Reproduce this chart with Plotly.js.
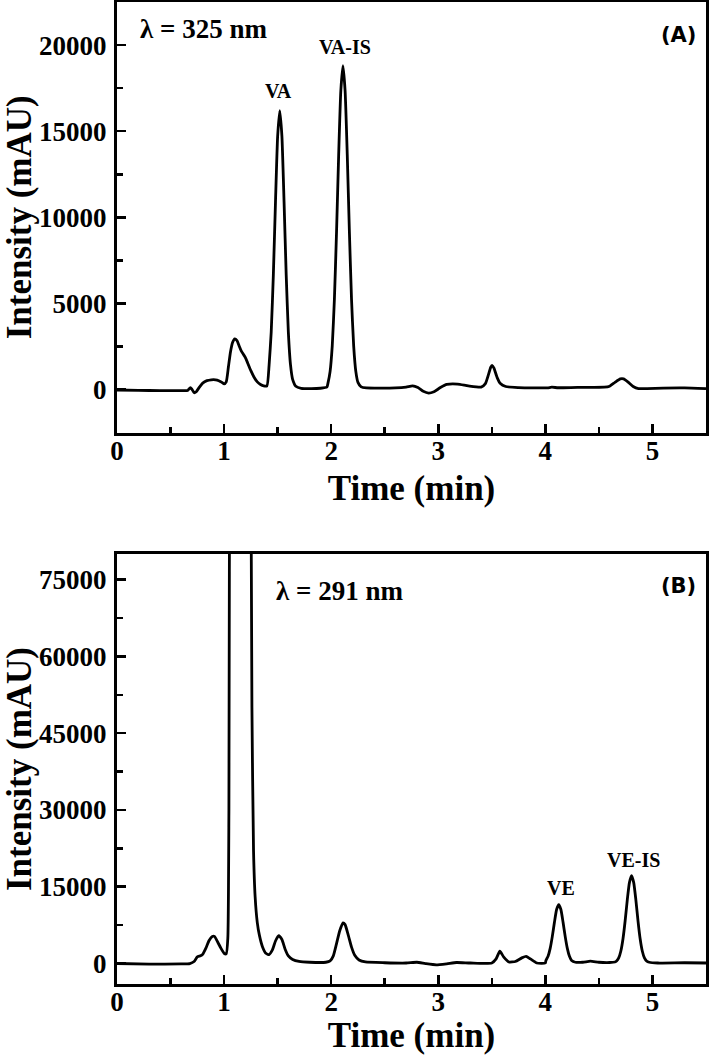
<!DOCTYPE html>
<html>
<head>
<meta charset="utf-8">
<script src="https://cdn.plot.ly/plotly-3.0.1.min.js"></script>
<style>
  html, body { margin: 0; padding: 0; background: #fff; }
  #chart { width: 709px; height: 1055px; }
</style>
</head>
<body>
<div id="chart"></div>
<script>
// Chromatogram (A), lambda = 325 nm
let timeA = [0.00, 0.20, 0.40, 0.60, 0.66, 0.685, 0.70, 0.72, 0.74, 0.77, 0.80, 0.84, 0.88, 0.92, 0.95, 0.98,
  1.00, 1.02, 1.04, 1.06, 1.08, 1.10, 1.12, 1.14, 1.16, 1.18, 1.20, 1.22, 1.25, 1.28, 1.31, 1.34, 1.37, 1.40,
  1.42, 1.44, 1.46, 1.48, 1.50, 1.52, 1.54, 1.56, 1.58, 1.60, 1.62, 1.64, 1.67, 1.72, 1.80, 1.90, 1.96,
  1.97, 1.99, 2.01, 2.03, 2.05, 2.07, 2.09, 2.11, 2.13, 2.15, 2.17, 2.19, 2.21, 2.23, 2.25, 2.28, 2.33,
  2.45, 2.60, 2.70, 2.76, 2.81, 2.86, 2.91, 2.96, 3.02, 3.08, 3.18, 3.28, 3.40, 3.44, 3.47, 3.49, 3.505,
  3.52, 3.55, 3.58, 3.63, 3.75, 3.90, 4.02, 4.06, 4.12, 4.30, 4.55, 4.60, 4.65, 4.70, 4.73, 4.77, 4.82,
  4.87, 4.95, 5.10, 5.30, 5.50];
let intA = [-20, -40, -60, -60, -50, 120, 20, -180, -120, 150, 380, 520, 570, 570, 520, 420,
  330, 450, 1300, 2200, 2750, 2950, 2850, 2550, 2250, 2050, 1850, 1550, 1100, 720, 450, 300, 220, 220,
  1400, 3340, 6660, 10900, 14700, 16200, 14700, 10900, 6660, 3340, 1450, 600, 200, 80, 60, 80, 150,
  376, 1060, 2540, 5230, 9160, 13650, 17350, 18800, 17350, 13650, 9160, 5230, 2540, 1060, 420, 160, 100,
  90, 100, 150, 220, 120, -100, -200, -120, 120, 300, 320, 220, 150, 350, 900, 1300, 1400,
  1250, 700, 350, 180, 120, 100, 100, 140, 110, 130, 140, 200, 420, 620, 620, 450, 180,
  60, 60, 90, 100, 60];

// Chromatogram (B), lambda = 291 nm
let timeB = [0.00, 0.30, 0.60, 0.68, 0.72, 0.75, 0.78, 0.80, 0.83, 0.86, 0.89, 0.91, 0.94, 0.97, 1.00, 1.02,
  1.035, 1.045, 1.055, 1.15, 1.245, 1.26, 1.275, 1.29, 1.31, 1.33, 1.36, 1.39, 1.42, 1.45, 1.48, 1.51,
  1.54, 1.57, 1.60, 1.64, 1.70, 1.80, 1.95, 1.99, 2.02, 2.05, 2.08, 2.11, 2.13, 2.16, 2.19, 2.22, 2.26,
  2.32, 2.50, 2.70, 2.80, 2.88, 2.98, 3.08, 3.17, 3.30, 3.50, 3.54, 3.575, 3.61, 3.66, 3.72, 3.78, 3.82,
  3.86, 3.92, 4.00, 4.005, 4.025, 4.045, 4.065, 4.085, 4.105, 4.125, 4.145, 4.165, 4.185, 4.205, 4.225,
  4.245, 4.28, 4.35, 4.42, 4.50, 4.60, 4.65, 4.665, 4.685, 4.705, 4.725, 4.745, 4.765, 4.785, 4.805,
  4.825, 4.845, 4.865, 4.885, 4.905, 4.925, 4.945, 4.97, 5.05, 5.30, 5.50];
let intB = [0, -100, -80, 0, 400, 1300, 1500, 1800, 3000, 4500, 5300, 5300, 4200, 3000, 2000, 1900,
  5000, 30000, 120000, 300000, 120000, 50000, 22000, 13000, 8000, 5500, 3200, 2000, 1750, 2600, 4400, 5450,
  4700, 2800, 1500, 800, 400, 250, 250, 500, 1500, 3900, 6400, 7950, 7600, 5500, 3200, 1600, 700,
  300, 150, 100, 250, 0, -250, -50, 200, 100, 100, 900, 2400, 1300, 300, 400, 1100, 1400,
  900, 100, 100, 600, 1400, 2950, 5300, 8100, 10550, 11500, 10550, 8100, 5300, 2950, 1400,
  600, 250, 250, 450, 250, 200, 300, 500, 1100, 2450, 4850, 8350, 12450, 15800, 17150,
  15800, 12450, 8350, 4850, 2450, 1100, 500, 250, 100, 150, 100];

let serif = "Liberation Serif";
let tickFont = { family: serif, size: 27, color: "black", weight: "bold" };
let titleFont = { family: serif, size: 35, color: "black", weight: "bold" };

function xAxis(anchor) {
    return {
        anchor: anchor,
        range: [0, 5.5],
        dtick: 1,
        tick0: 0,
        tickformat: "d",
        ticks: "inside",
        ticklen: 9,
        tickwidth: 2.5,
        tickcolor: "black",
        minor: { ticks: "inside", ticklen: 6, tickwidth: 2.5, tickcolor: "black", dtick: 0.5, tick0: 0 },
        showline: true,
        linewidth: 3,
        linecolor: "black",
        mirror: true,
        showgrid: false,
        zeroline: false,
        tickfont: tickFont,
        ticklabelstandoff: -8,
        title: { text: "Time (min)", font: titleFont, standoff: 11 },
    };
}

function yAxis(anchor, domain, range, dtick) {
    return {
        anchor: anchor,
        domain: domain,
        range: range,
        dtick: dtick,
        tick0: 0,
        tickformat: "d",
        ticks: "inside",
        ticklen: 9,
        tickwidth: 2.5,
        tickcolor: "black",
        minor: { ticks: "inside", ticklen: 6, tickwidth: 2.5, tickcolor: "black", dtick: dtick / 2, tick0: 0 },
        showline: true,
        linewidth: 3,
        linecolor: "black",
        mirror: true,
        showgrid: false,
        zeroline: false,
        tickfont: tickFont,
        ticklabelstandoff: 2,
        title: { text: "Intensity (mAU)", font: titleFont, standoff: 13 },
    };
}

let lineStyle = { color: "black", width: 2.8, shape: "spline", smoothing: 0.5 };

let traces = [
    { x: timeA, y: intA, type: "scatter", mode: "lines", line: lineStyle, xaxis: "x", yaxis: "y", hoverinfo: "skip" },
    { x: timeB, y: intB, type: "scatter", mode: "lines", line: lineStyle, xaxis: "x2", yaxis: "y2", hoverinfo: "skip" },
];

function note(text, x, y, xref, yref, size, family) {
    return {
        text: text, x: x, y: y, xref: xref, yref: yref,
        showarrow: false, xanchor: "center", yanchor: "middle",
        font: { family: family || serif, size: size, color: "black", weight: "bold" },
    };
}

let layout = {
    width: 709,
    height: 1055,
    margin: { l: 117, r: 3, t: 2, b: 71 },
    paper_bgcolor: "white",
    plot_bgcolor: "white",
    showlegend: false,
    xaxis: xAxis("y"),
    yaxis: yAxis("x", [0.5614, 1], [-2500, 22500], 5000),
    xaxis2: xAxis("y2"),
    yaxis2: yAxis("x2", [0, 0.4379], [-4000, 80000], 15000),
    annotations: [
        note("λ = 325 nm", 0.81, 20960, "x", "y", 27),
        note("VA", 1.51, 17360, "x", "y", 20),
        note("VA-IS", 2.13, 19860, "x", "y", 20),
        note("(A)", 5.24, 20560, "x", "y", 21, "DejaVu Sans"),
        note("λ = 291 nm", 2.08, 72860, "x2", "y2", 27),
        note("VE", 4.15, 14740, "x2", "y2", 20),
        note("VE-IS", 4.82, 20260, "x2", "y2", 20),
        note("(B)", 5.24, 73840, "x2", "y2", 21, "DejaVu Sans"),
    ],
};

Plotly.newPlot("chart", traces, layout, { staticPlot: true, displayModeBar: false });
</script>
</body>
</html>
